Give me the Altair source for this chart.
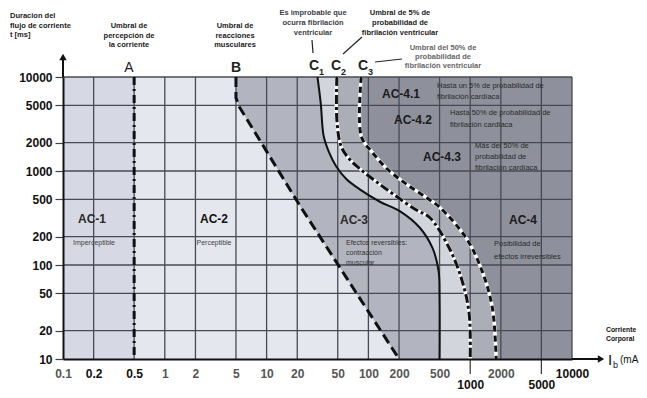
import altair as alt
import pandas as pd

FONT = "Liberation Sans"

# ---------------- data ----------------
x_ticks = [0.1, 0.2, 0.5, 1, 2, 5, 10, 20, 50, 100, 200, 500, 1000, 2000, 5000, 10000]
y_ticks = [10, 20, 50, 100, 200, 500, 1000, 2000, 5000, 10000]
low_labels = [1000, 5000]

A_mA = [0.5, 0.5]
A_ms = [10000, 10]
B_mA = [5, 5, 5.4, 21.7, 200]
B_ms = [10000, 6000, 4800, 412, 10]
C1_mA = [31.6, 34, 36.4, 41, 48, 61, 83, 131, 205, 320, 428, 490, 500, 500]
C1_ms = [10000, 5300, 2340, 1585, 1130, 816, 634, 468, 372, 249, 150, 85, 44, 10]
C2_mA = [49, 49, 54, 65, 83, 122, 191, 299, 400, 625, 836, 978, 1000]
C2_ms = [10000, 3500, 1830, 1340, 1050, 757, 531, 382, 320, 150, 67, 30, 10]
C3_mA = [85, 85, 109, 153, 239, 374, 500, 915, 1315, 1651, 1800]
C3_ms = [10000, 2340, 1585, 1050, 720, 518, 412, 193, 85, 35, 10]

X_MIN, X_MAX = x_ticks[0], x_ticks[-1]
Y_MIN, Y_MAX = y_ticks[0], y_ticks[-1]


def curve_df(mA, ms):
    return pd.DataFrame({"mA": mA, "ms": ms, "i": list(range(len(mA))), "right": [X_MAX] * len(mA)})


xs = alt.Scale(type="log", domain=[X_MIN, X_MAX], nice=False)
ys = alt.Scale(type="log", domain=[Y_MIN, Y_MAX], nice=False)

xaxis = alt.Axis(
    values=x_ticks, format="~g", title=None, grid=False, ticks=False,
    domainColor="#111", domainWidth=2,
    labelFont=FONT, labelFontSize=12, labelFontWeight="bold",
    labelColor={"condition": {"test": "datum.value == 0.2 || datum.value == 0.5 || datum.value == 1000 || datum.value >= 5000", "value": "#111"}, "value": "#555"},
    labelExpr="datum.value == 1000 || datum.value == 5000 ? ['', datum.label] : datum.label",
    labelLineHeight=11, labelBaseline="top",
    labelPadding=9, labelOverlap=False, labelFlush=False, zindex=1,
)
yaxis = alt.Axis(
    values=y_ticks, format="~g", title=None, grid=False, ticks=True, tickSize=8,
    tickColor="#444", tickWidth=1.2, domainColor="#111", domainWidth=2,
    labelFont=FONT, labelFontSize=12, labelFontWeight="bold", labelColor="#111",
    labelPadding=3, labelOverlap=False, labelFlush=False, zindex=1,
)
X = alt.X("mA:Q", scale=xs, axis=xaxis)
Y = alt.Y("ms:Q", scale=ys, axis=yaxis)

one = alt.Data(values=[{"k": 0}])

layers = []

# ---------------- zone fills ----------------
zones = [
    ([X_MIN, X_MIN], [Y_MAX, Y_MIN], "#d6d9e4", "linear"),
    (A_mA, A_ms, "#e5e7ee", "linear"),
    (B_mA, B_ms, "#b2b5bf", "linear"),
    (C1_mA, C1_ms, "#d3d5dc", "catmull-rom"),
    (C2_mA, C2_ms, "#abaeb7", "catmull-rom"),
    (C3_mA, C3_ms, "#8e919b", "catmull-rom"),
]
for mA, ms, col, interp in zones:
    layers.append(
        alt.Chart(curve_df(mA, ms)).mark_area(orient="horizontal", interpolate=interp, color=col, opacity=1)
        .encode(y=Y, x=X, x2=alt.X2("right:Q"))
    )

# ---------------- grid ----------------
GRID = "#474a54"
layers.append(alt.Chart(pd.DataFrame({"mA": x_ticks[1:]})).mark_rule(color=GRID, strokeWidth=1.3).encode(x=X))
layers.append(alt.Chart(pd.DataFrame({"ms": y_ticks[1:]})).mark_rule(color=GRID, strokeWidth=1.3).encode(y=Y))
layers.append(alt.Chart(pd.DataFrame({"mA": low_labels})).mark_rule(color="#333", strokeWidth=1.2)
              .encode(x=X, y=alt.value(282), y2=alt.value(297)))

# ---------------- curves ----------------
def line(mA, ms, interp, **kw):
    return alt.Chart(curve_df(mA, ms)).mark_line(interpolate=interp, strokeCap="butt", **kw).encode(
        x=X, y=Y, order=alt.Order("i:Q"))

layers.append(line(A_mA, A_ms, "linear", color="#111", strokeWidth=3, strokeDash=[8, 4, 2, 4]))
layers.append(line(B_mA, B_ms, "linear", color="#111", strokeWidth=3, strokeDash=[10, 5]))
layers.append(line(C1_mA, C1_ms, "catmull-rom", color="#111", strokeWidth=2))
layers.append(line(C2_mA, C2_ms, "catmull-rom", color="#ffffff", strokeWidth=3.5))
layers.append(line(C2_mA, C2_ms, "catmull-rom", color="#111", strokeWidth=3, strokeDash=[9, 3, 3, 3]))
layers.append(line(C3_mA, C3_ms, "catmull-rom", color="#ffffff", strokeWidth=3.5))
layers.append(line(C3_mA, C3_ms, "catmull-rom", color="#111", strokeWidth=3, strokeDash=[6, 4]))


# ---------------- annotations ----------------
def txt(lines, x, y, size=7.5, weight="bold", align="center", color="#1a1a1a", lh=None):
    if isinstance(lines, str):
        lines = [lines]
    lh = lh if lh is not None else size * 1.25
    out = []
    for k, s in enumerate(lines):
        out.append(
            alt.Chart(one).mark_text(fontSize=size, fontWeight=weight, align=align, baseline="middle",
                                     color=color, font=FONT)
            .encode(x=alt.value(x), y=alt.value(y + k * lh), text=alt.value(s))
        )
    return out


def seg(x1, y1, x2, y2, w=1.2, color="#222"):
    return alt.Chart(one).mark_rule(color=color, strokeWidth=w).encode(
        x=alt.value(x1), y=alt.value(y1), x2=alt.value(x2), y2=alt.value(y2))


# axis extensions and arrowheads
layers.append(seg(0, -18, 0, 0, w=2, color="#111"))
layers.append(seg(509, 282, 536, 282, w=2, color="#111"))
layers.append(alt.Chart(one).mark_point(shape="triangle-up", filled=True, size=55, color="#111", opacity=1)
              .encode(x=alt.value(0), y=alt.value(-20)))
layers.append(alt.Chart(one).mark_point(shape="triangle-right", filled=True, size=55, color="#111", opacity=1)
              .encode(x=alt.value(538), y=alt.value(282)))

# header texts
layers += txt(["Duracion del", "flujo de corriente", "t [ms]"], -53, -61, align="left", lh=9.5)
layers += txt(["Umbral de", "percepción de", "la corriente"], 66, -51, lh=9.5)
layers += txt(["Umbral de", "reacciones", "musculares"], 172, -51, lh=9.5)
layers += txt(["Es improbable que", "ocurra fibrilación", "ventricular"], 250, -64, lh=10, color="#3a3d48")
layers += txt(["Umbral de 5% de", "probabilidad de", "fibrilación ventricular"], 337, -64, lh=10)
layers += txt(["Umbral del 50% de", "probabilidad de", "fibrilación ventricular"], 380, -29, lh=9, color="#666")

# curve letters
layers += txt("A", 66, -9, size=14, weight="normal", color="#222")
layers += txt("B", 173, -9, size=14, color="#222")
for cx, sub in [(251, "1"), (273, "2"), (300, "3")]:
    layers += txt("C", cx, -11, size=14, color="#222")
    layers += txt(sub, cx + 5, -5, size=9, align="left", color="#222")

# leader lines
layers.append(seg(249, -37, 250, -24))
layers.append(seg(299, -40, 280, -23))
layers.append(seg(339, -18, 312, -15))

# zone labels
layers += txt("AC-1", 29, 142, size=12, color="#2a2a2a")
layers += txt("Imperceptible", 31, 166, size=7, weight="normal", color="#444")
layers += txt("AC-2", 151, 142, size=12, color="#111")
layers += txt("Perceptible", 151, 166, size=7, weight="normal", color="#444")
layers += txt("AC-3", 291, 143, size=12, color="#2a2a2a")
layers += txt(["Efectos reversibles:", "contracción", "muscular"], 283, 166, size=7, weight="normal",
              align="left", color="#333", lh=10)
layers += txt("AC-4.1", 338, 17, size=12, color="#1a1a1a")
layers += txt(["Hasta un 5% de probabilidad de", "fibrilación cardíaca"], 374, 9, size=7.5, weight="normal",
              align="left", color="#2a2a2a", lh=11)
layers += txt("AC-4.2", 350, 43, size=12, color="#1a1a1a")
layers += txt(["Hasta 50% de probabilidad de", "fibrilación cardíaca"], 387, 36, size=7.5, weight="normal",
              align="left", color="#2a2a2a", lh=12)
layers += txt("AC-4.3", 379, 80, size=12, color="#1a1a1a")
layers += txt(["Más del 50% de", "probabilidad de", "fibrilación cardíaca"], 412, 69, size=7.5, weight="normal",
              align="left", color="#2a2a2a", lh=11)
layers += txt("AC-4", 460, 143, size=12, color="#1a1a1a")
layers += txt(["Posibilidad de", "efectos irreversibles"], 431, 167, size=7.5, weight="normal",
              align="left", color="#2a2a2a", lh=13)

# x-axis title
layers += txt(["Corriente", "Corporal"], 543, 253, size=6.8, align="left", lh=8.5, color="#111")
layers += txt("I", 545, 283, size=15, weight="normal", align="left", color="#111")
layers += txt("b", 550, 288, size=9, weight="normal", align="left", color="#111")
layers += txt("(mA", 557, 283, size=10, weight="normal", align="left", color="#111")

chart = alt.layer(*layers).properties(
    width=509, height=282,
    padding={"left": 55, "top": 69, "right": 67, "bottom": 31},
    autosize=alt.AutoSizeParams(type="none"),
    background="white",
).configure_view(stroke=None)

chart.save("out.html", embed_options={"renderer": "svg", "actions": False})
